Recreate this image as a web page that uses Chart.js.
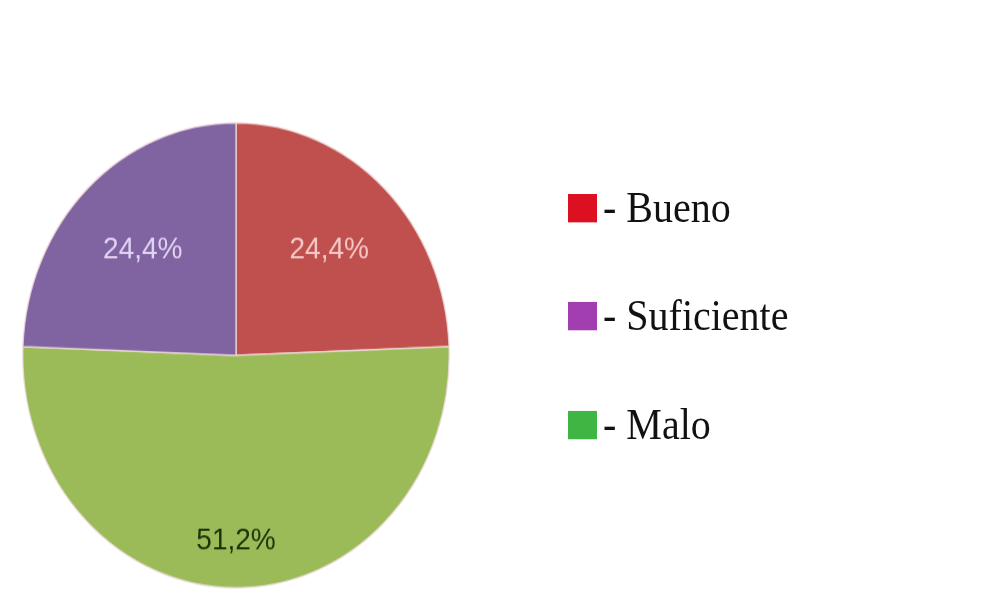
<!DOCTYPE html>
<html>
<head>
<meta charset="utf-8">
<script src="https://cdn.jsdelivr.net/npm/chart.js@4"></script>
<style>
  html, body { margin: 0; padding: 0; background: #fff; }
  body { width: 1007px; height: 592px; overflow: hidden; position: relative; }
  #stage { position: absolute; left: 0; top: 0; width: 1007px; height: 543px; transform: scaleY(1.09); transform-origin: 0 0; }
  #pieBox { position: absolute; left: 22px; top: 112px; width: 428px; height: 428px; }
  #legend { position: absolute; left: 568px; top: 0; font-family: "Liberation Serif", "DejaVu Serif", serif; font-size: 40px; color: #111; }
  .legend-item { position: absolute; left: 0; display: flex; align-items: center; white-space: nowrap; line-height: 40px; }
  .legend-box { width: 29px; height: 26px; margin-right: 6px; }
</style>
</head>
<body>
<div id="stage">
  <div id="pieBox"><canvas id="pieChart" width="428" height="428"></canvas></div>
  <div id="legend"></div>
</div>
<script>
document.addEventListener('DOMContentLoaded', function () {
    // slice order as drawn clockwise from the top
    const categories = ['Bueno', 'Malo', 'Suficiente'];
    const values = [24.4, 51.2, 24.4];
    const sliceColors = ['#c0504d', '#9bbb59', '#8064a2'];
    const labelColors = ['#f6c8c8', '#1e3208', '#e0d4f4'];
    const labelDepth = [0.63, 0.80, 0.63];

    // legend is listed in a different order and with brighter swatches
    const legendNames = ['Bueno', 'Suficiente', 'Malo'];
    const legendColors = ['#dc1020', '#a23eb0', '#3fb544'];
    const legendRowTops = [171, 270, 370];

    const legendEl = document.getElementById('legend');
    legendNames.forEach((name, i) => {
        const item = document.createElement('div');
        item.className = 'legend-item';
        item.style.top = legendRowTops[i] + 'px';
        item.innerHTML = `<span class="legend-box" style="background:${legendColors[i]}"></span><span>- ${name}</span>`;
        legendEl.appendChild(item);
    });

    // Percent labels inside the slices
    const sliceLabels = {
        id: 'sliceLabels',
        afterDatasetsDraw(chart) {
            const ctx = chart.ctx;
            const meta = chart.getDatasetMeta(0);
            ctx.save();
            ctx.font = '28px "Liberation Sans", Arial, sans-serif';
            ctx.textAlign = 'center';
            ctx.textBaseline = 'middle';
            meta.data.forEach((arc, i) => {
                const p = arc.getProps(['x', 'y', 'startAngle', 'endAngle', 'outerRadius'], true);
                const mid = (p.startAngle + p.endAngle) / 2;
                const r = p.outerRadius * labelDepth[i];
                ctx.fillStyle = labelColors[i];
                const text = values[i].toFixed(1).replace('.', ',') + '%';
                ctx.fillText(text, p.x + Math.cos(mid) * r, p.y + Math.sin(mid) * r);
            });
            ctx.restore();
        }
    };

    const ctxPie = document.getElementById('pieChart').getContext('2d');
    new Chart(ctxPie, {
        type: 'pie',
        data: {
            labels: categories,
            datasets: [{
                data: values,
                backgroundColor: sliceColors,
                borderColor: 'rgba(240, 220, 220, 0.8)',
                borderWidth: 1.5
            }]
        },
        options: {
            responsive: false,
            animation: false,
            layout: { padding: 0 },
            plugins: {
                legend: { display: false },
                tooltip: { enabled: false }
            }
        },
        plugins: [sliceLabels]
    });
});
</script>
</body>
</html>
